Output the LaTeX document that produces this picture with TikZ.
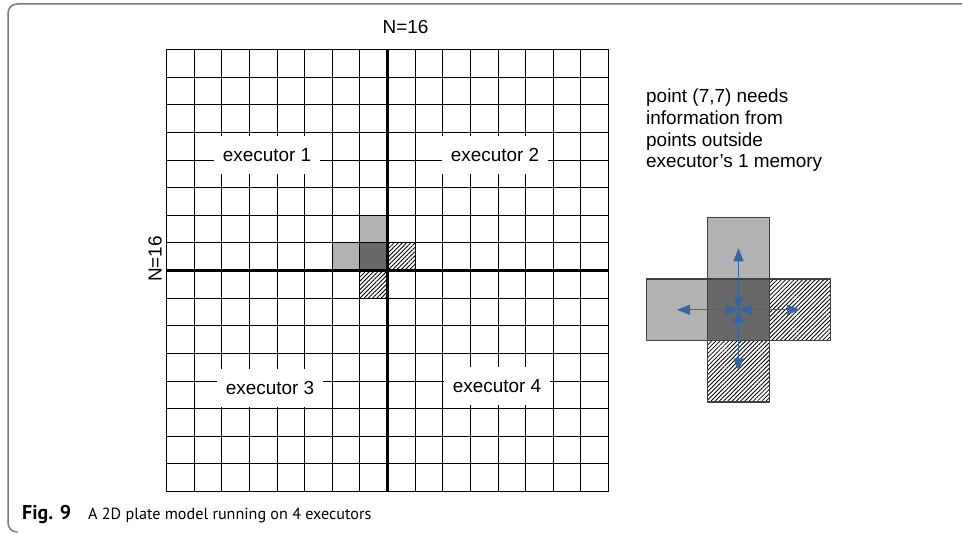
\documentclass[tikz,border=0pt]{standalone}
\usepackage{fontspec}
\setmainfont{Liberation Sans}
\newfontfamily\capfont{PT Sans}
\usepackage{tikz}
\usetikzlibrary{arrows.meta,patterns.meta,positioning}
\definecolor{arrowblue}{RGB}{52,101,164}
\definecolor{framegray}{RGB}{120,120,120}
\definecolor{lightcell}{RGB}{178,178,178}
\definecolor{darkcell}{RGB}{104,104,104}
\tikzset{
  every picture/.style={font=\fontsize{19}{21.7}\selectfont, line join=round, >=Stealth},
  gridline/.style={line width=1.2bp},
  splitline/.style={line width=3bp},
  hatched/.style={pattern={Lines[angle=45,distance=3bp,line width=0.8bp]}},
  exlabel/.style={fill=white, inner xsep=9bp, minimum height=38bp},
  crossbox/.style={draw=black!75, line width=1.3bp, minimum size=61.5bp, inner sep=0pt, outer sep=0pt},
  flow/.style={arrowblue, line width=1.3bp, {Triangle[length=13bp,width=10bp]}-{Triangle[length=13bp,width=10bp]}},
}

\begin{document}
\begin{tikzpicture}[x=1bp,y=-1bp]
\useasboundingbox (0,0) rectangle (962,535);
\draw[framegray, line width=1.5bp, rounded corners=9bp] (962,4) -- (8,4) -- (8,532) -- (17,532);
\fill[lightcell] (359.5,215.5) rectangle (387.5,242.5);
\fill[lightcell] (332.5,242.5) rectangle (359.5,270.5);
\fill[darkcell] (359.5,242.5) rectangle (387.5,270.5);
\fill[hatched] (387.5,242.5) rectangle (415.5,270.5);
\fill[hatched] (359.5,270.5) rectangle (387.5,298.5);
\foreach \i [evaluate=\i as \p using {round(27.625*\i)}] in {0,...,16}{
  \draw[gridline] (166.5+\p,49.5) -- (166.5+\p,491.5);
  \draw[gridline] (166.5,49.5+\p) -- (608.5,49.5+\p);
}
\draw[splitline] (387.5,49.5) -- (387.5,491.5);
\draw[splitline] (166.5,270.5) -- (608.5,270.5);
\node[exlabel] (ex1) at (267,155) {executor 1};
\node[exlabel] (ex2) at (495,155) {executor 2};
\node[exlabel] (ex3) at (270,388) {executor 3};
\node[exlabel] (ex4) at (497,386) {executor 4};
\node (ntop) at (405.5,27) {N=16};
\node[rotate=90] (nleft) at (155,259) {N=16};
\node[anchor=north west, align=left, inner sep=0pt] (note) at (646,89)
  {point (7,7) needs\\information from\\points outside\\executor's 1 memory};
\node[crossbox, fill=darkcell] (mid) at (738.5,309.8) {};
\node[crossbox, fill=lightcell, above=0pt of mid] (nbup) {};
\node[crossbox, fill=lightcell, left=0pt of mid] (nbleft) {};
\node[crossbox, hatched, right=0pt of mid] (nbright) {};
\node[crossbox, hatched, below=0pt of mid] (nbdown) {};
\draw[crossbox] (mid.south west) rectangle (mid.north east);
\draw[flow] (mid.center) -- (nbup.center);
\draw[flow] (mid.center) -- (nbleft.center);
\draw[flow] (mid.center) -- (nbright.center);
\draw[flow] (mid.center) -- (nbdown.center);
\node[anchor=base west, inner sep=0pt, font=\capfont\fontsize{16.2}{20}\selectfont] (caption) at (22,519)
  {\makebox[66bp][l]{\fontsize{20}{20}\selectfont\textbf{Fig. 9}}A 2D plate model running on 4 executors};
\end{tikzpicture}
\end{document}
